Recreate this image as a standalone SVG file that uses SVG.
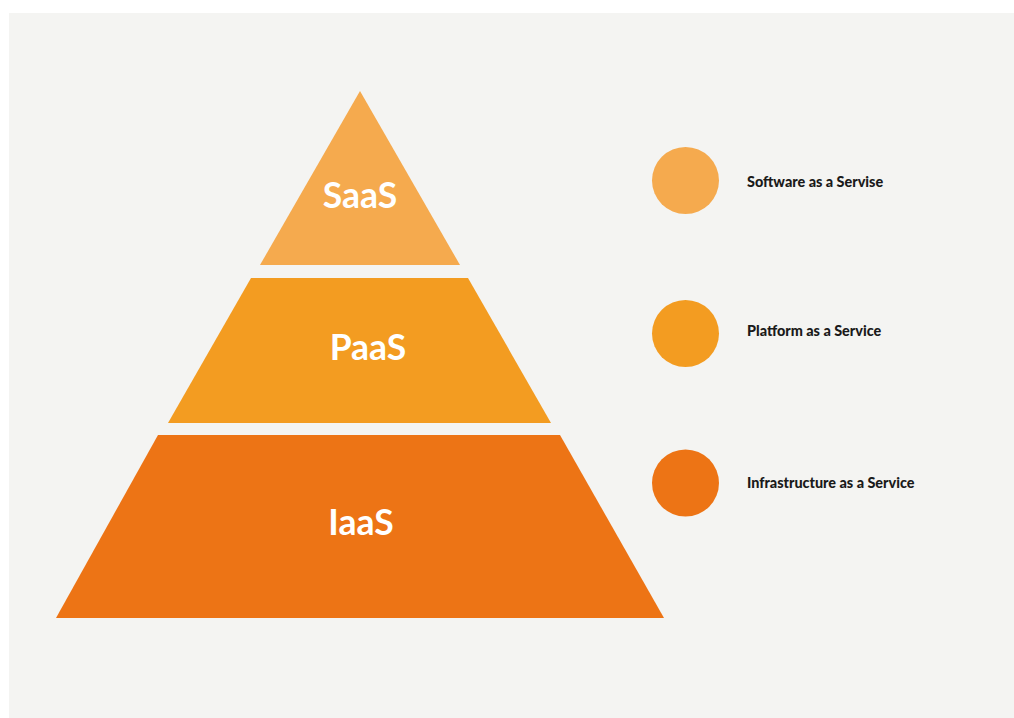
<svg xmlns="http://www.w3.org/2000/svg" width="1014" height="718" viewBox="0 0 1014 718">
<style>
.lvl{font-family:Lato,"Open Sans","Liberation Sans",sans-serif;font-weight:700;font-size:35.5px;fill:#ffffff;text-anchor:middle}
.lg{font-family:Lato,"Liberation Sans",sans-serif;font-weight:900;font-size:14.4px;fill:#1a1a1a}
</style>
<rect x="0" y="0" width="1014" height="718" fill="#ffffff"/>
<rect x="9" y="13" width="1005" height="705" fill="#f4f4f2"/>
<g id="saas">
<polygon points="360,91 460,265 260,265" fill="#f5aa4e"/>
<text class="lvl" x="360" y="208">SaaS</text>
</g>
<g id="paas">
<polygon points="251,278 468,278 551,423 168,423" fill="#f39c21"/>
<text class="lvl" x="368" y="360">PaaS</text>
</g>
<g id="iaas">
<polygon points="158,435 560,435 664,618 56,618" fill="#ed7415"/>
<text class="lvl" x="361" y="535">IaaS</text>
</g>
<g id="legend-saas">
<circle cx="685.5" cy="180.5" r="33.5" fill="#f5aa4e"/>
<text class="lg" x="747" y="187">Software as a Servise</text>
</g>
<g id="legend-paas">
<circle cx="685.5" cy="333.5" r="33.5" fill="#f39c21"/>
<text class="lg" x="747" y="336">Platform as a Service</text>
</g>
<g id="legend-iaas">
<circle cx="685.5" cy="483" r="33.5" fill="#ed7415"/>
<text class="lg" x="747" y="488">Infrastructure as a Service</text>
</g>
<g id="connectors"/>
</svg>
